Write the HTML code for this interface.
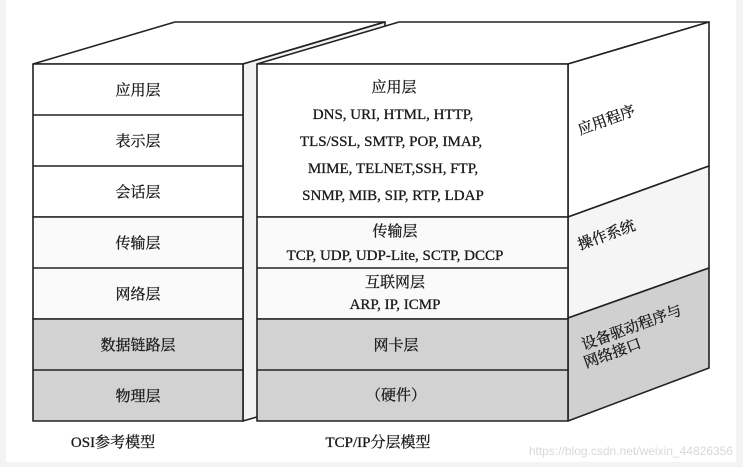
<!DOCTYPE html>
<html><head><meta charset="utf-8"><style>
html,body{margin:0;padding:0;background:#f3f3f5;}
svg{display:block}
text{font-family:"Liberation Serif","Noto Serif CJK SC",serif;fill:#1a1a1a;}
</style></head><body>
<svg width="743" height="467" viewBox="0 0 743 467" xmlns="http://www.w3.org/2000/svg">
<rect x="6" y="0" width="730" height="462" fill="#fff"/>
<g stroke="#222" stroke-width="1.6" stroke-linejoin="round">
<polygon points="33,64 175,22 385,22 243,64" fill="#fff"/>
<polygon points="243,64 385,22 385,380 243,421" fill="#f2f2f2"/>
<rect x="33" y="64" width="210" height="153" fill="#fff"/>
<rect x="33" y="217" width="210" height="102" fill="#fafafa"/>
<rect x="33" y="319" width="210" height="102" fill="#d2d2d2"/>
<line x1="33" y1="115" x2="243" y2="115"/>
<line x1="33" y1="166" x2="243" y2="166"/>
<line x1="33" y1="268" x2="243" y2="268"/>
<line x1="33" y1="370" x2="243" y2="370"/>
<polygon points="257,64 399,22 709,22 568,64" fill="#fff"/>
<polygon points="568,64 709,22 709,166 568,217" fill="#fff"/>
<polygon points="568,217 709,166 709,268 568,318" fill="#f5f5f5"/>
<polygon points="568,318 709,268 709,368 568,421" fill="#d0d0d0"/>
<rect x="257" y="64" width="311" height="153" fill="#fff"/>
<rect x="257" y="217" width="311" height="102" fill="#fafafa"/>
<rect x="257" y="319" width="311" height="102" fill="#d2d2d2"/>
<line x1="257" y1="268" x2="568" y2="268"/>
<line x1="257" y1="370" x2="568" y2="370"/>
</g>
<g font-size="15" text-anchor="middle" stroke="#1a1a1a" stroke-width="0.3">
<text x="138" y="95">应用层</text>
<text x="138" y="146">表示层</text>
<text x="138" y="197">会话层</text>
<text x="138" y="248">传输层</text>
<text x="138" y="299">网络层</text>
<text x="138" y="350">数据链路层</text>
<text x="138" y="401">物理层</text>
<text x="394" y="92">应用层</text>
<text x="393" y="119">DNS, URI, HTML, HTTP,</text>
<text x="391" y="146">TLS/SSL, SMTP, POP, IMAP,</text>
<text x="393" y="173">MIME, TELNET,SSH, FTP,</text>
<text x="393" y="200">SNMP, MIB, SIP, RTP, LDAP</text>
<text x="395" y="236">传输层</text>
<text x="395" y="260">TCP, UDP, UDP-Lite, SCTP, DCCP</text>
<text x="395" y="287">互联网层</text>
<text x="395" y="309">ARP, IP, ICMP</text>
<text x="396" y="350">网卡层</text>
<text x="396" y="400">（硬件）</text>
<text x="113" y="447">OSI参考模型</text>
<text x="378" y="447">TCP/IP分层模型</text>
</g>
<g font-size="15" stroke="#1a1a1a" stroke-width="0.3">
<text transform="translate(580,135) rotate(-20)">应用程序</text>
<text transform="translate(580,250) rotate(-20)">操作系统</text>
<text transform="translate(584,350) rotate(-20)">设备驱动程序与</text>
<text transform="translate(586,368) rotate(-20)">网络接口</text>
</g>
<text x="733" y="455" font-size="12" text-anchor="end" style="font-family:'Liberation Sans',sans-serif;fill:#d8d8d8">https://blog.csdn.net/weixin_44826356</text>
</svg>
</body></html>
